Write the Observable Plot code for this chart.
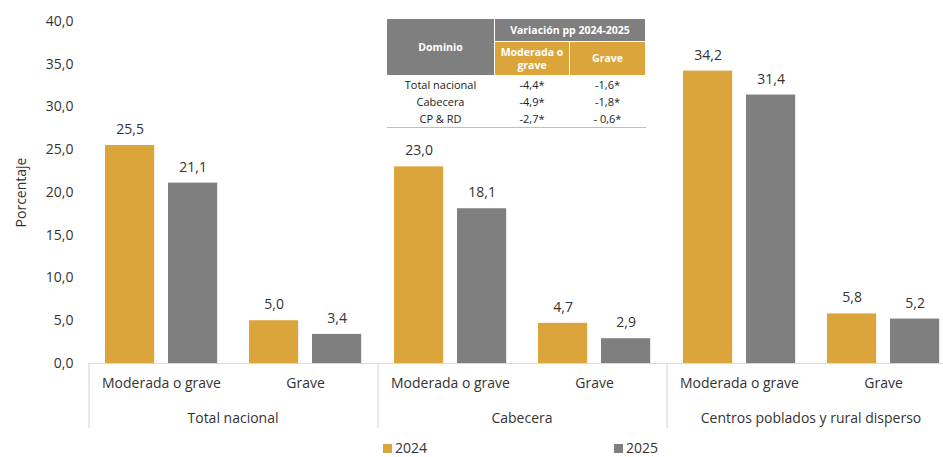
<!DOCTYPE html>
<html>
<head>
<meta charset="utf-8">
<script src="https://cdn.jsdelivr.net/npm/d3@7"></script>
<script src="https://cdn.jsdelivr.net/npm/@observablehq/plot@0.6"></script>
<style>
  html, body { margin: 0; padding: 0; background: #fff; }
  #wrap { position: relative; width: 943px; height: 457px; font-family: 'Open Sans', sans-serif; color: #333; }
  #tbl { position: absolute; left: 386px; top: 18px; border-collapse: collapse; font-family: 'Open Sans', sans-serif; font-size: 11px; color: #222; }
  #tbl th { font-weight: bold; font-size: 10.5px; color: #fff; border: 1px solid #fff; padding: 0; text-align: center; line-height: 13px; }
  #tbl th div { line-height: 13px; }
  #tbl td { padding: 0; text-align: center; height: 17px; line-height: 17px; }
  #tbl tr:last-child td { border-bottom: 1px solid #bfbfbf; }
  .leg { position: absolute; top: 439px; font-size: 14px; line-height: 17px; }
  .sw { display: inline-block; width: 9px; height: 9px; margin-right: 3px; vertical-align: 0px; }
</style>
</head>
<body>
<div id="wrap"></div>
<script>
const domains = ["Total nacional", "Cabecera", "Centros poblados y rural disperso"];
const severities = ["Moderada o grave", "Grave"];
const years = ["2024", "2025"];
const values2024 = [25.5, 5.0, 23.0, 4.7, 34.2, 5.8];
const values2025 = [21.1, 3.4, 18.1, 2.9, 31.4, 5.2];
const yTicks = [0, 5, 10, 15, 20, 25, 30, 35, 40];
const yLabel = "Porcentaje";
const colors = ["#dba53b", "#7f7f7f"];

const tableTitle = "Variación pp 2024-2025";
const tableHeadDomain = "Dominio";
const tableHeadCols = [["Moderada o", "grave"], ["Grave"]];
const tableRows = ["Total nacional", "Cabecera", "CP & RD"];
const tableModerada = ["-4,4*", "-4,9*", "-2,7*"];
const tableGrave = ["-1,6*", "-1,8*", "- 0,6*"];

const fmt = v => v.toFixed(1).replace(".", ",");

const rows = values2024.map((v, i) => ({
  domain: domains[Math.floor(i / 2)],
  severity: severities[i % 2],
  v2024: v,
  v2025: values2025[i]
}));

const W = 943, H = 437, ML = 87, MR = -13, MT = 21, MB = 74;
const band = (W - ML - MR) / domains.length / severities.length;

const chart = Plot.plot({
  width: W, height: H,
  marginLeft: ML, marginRight: MR, marginTop: MT, marginBottom: MB,
  style: { fontFamily: "'Open Sans', sans-serif", fontSize: "14px", color: "#333", overflow: "hidden" },
  fx: { domain: domains, padding: 0, label: null },
  x: { domain: severities, padding: 0, label: null },
  y: { domain: [0, 40], label: null },
  marks: [
    Plot.barY(rows, { fx: "domain", x: "severity", y: "v2024", fill: colors[0], insetLeft: 16, insetRight: band - 66 }),
    Plot.barY(rows, { fx: "domain", x: "severity", y: "v2025", fill: colors[1], insetLeft: 79, insetRight: band - 129 }),
    Plot.text(rows, { fx: "domain", x: "severity", y: "v2024", text: d => fmt(d.v2024), dx: -band / 2 + 41, dy: -16, fontSize: 14, fill: "#333" }),
    Plot.text(rows, { fx: "domain", x: "severity", y: "v2025", text: d => fmt(d.v2025), dx: -band / 2 + 104, dy: -16, fontSize: 14, fill: "#333" }),
    Plot.ruleY([0], { stroke: "#d9d9d9", strokeWidth: 1.2 }),
    Plot.ruleX([severities[0]], { x: d => d, dx: -band / 2, stroke: "#d9d9d9", strokeWidth: 1.2, insetTop: H - MT - MB, insetBottom: -65 }),
    Plot.axisY({ ticks: yTicks, tickSize: 0, tickPadding: 15, tickFormat: fmt, fontSize: 14,
                 label: yLabel, labelAnchor: "center", labelArrow: "none", labelOffset: 72 }),
    Plot.axisX({ tickSize: 0, tickPadding: 15, fontSize: 14 }),
    Plot.axisFx({ anchor: "bottom", tickSize: 0, tickPadding: 50, fontSize: 14, label: null })
  ]
});

const wrap = document.getElementById("wrap");
wrap.appendChild(chart);

// inset table
const t = document.createElement("table");
t.id = "tbl";
let html = `<tr><th rowspan="2" style="width:107px;height:56px;background:#7f7f7f">${tableHeadDomain}</th>` +
  `<th colspan="2" style="height:22px;background:#7f7f7f">${tableTitle}</th></tr>` +
  `<tr><th style="width:74px;height:33px;background:#dba53b">${tableHeadCols[0].map(s => `<div>${s}</div>`).join("")}</th>` +
  `<th style="width:75px;background:#dba53b">${tableHeadCols[1].map(s => `<div>${s}</div>`).join("")}</th></tr>`;
tableRows.forEach((r, i) => {
  html += `<tr><td>${r}</td><td>${tableModerada[i]}</td><td>${tableGrave[i]}</td></tr>`;
});
t.innerHTML = html;
wrap.appendChild(t);

// legend
years.forEach((y, i) => {
  const d = document.createElement("div");
  d.className = "leg";
  d.style.left = (i === 0 ? 383 : 614) + "px";
  d.innerHTML = `<span class="sw" style="background:${colors[i]}"></span>${y}`;
  wrap.appendChild(d);
});
</script>
</body>
</html>
